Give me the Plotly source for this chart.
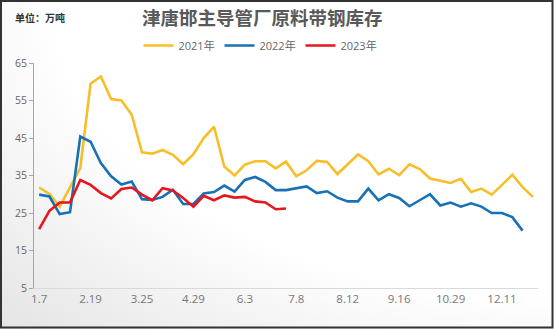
import base64
import plotly.graph_objects as go

# Weekly sampling dates (category axis), every fifth one is labelled
dates = ["1.7", "1.14", "1.21", "1.28", "2.11", "2.19", "2.25", "3.4", "3.11", "3.18",
         "3.25", "4.1", "4.8", "4.15", "4.22", "4.29", "5.6", "5.13", "5.20", "5.27",
         "6.3", "6.10", "6.17", "6.24", "7.1", "7.8", "7.15", "7.22", "7.29", "8.5",
         "8.12", "8.19", "8.26", "9.2", "9.9", "9.16", "9.23", "9.30", "10.14", "10.21",
         "10.29", "11.5", "11.12", "11.26", "12.3", "12.11", "12.17", "12.24", "12.31"]
tick_labels = dates[::5]

# Strip-steel raw-material stock, 10k tonnes
stock_2021 = [31.8, 30.1, 26.7, 32.0, 37.0, 59.5, 61.4, 55.4, 55.0, 51.2,
              41.2, 40.8, 41.8, 40.5, 38.0, 40.7, 45.0, 48.0, 37.4, 35.0,
              37.9, 38.8, 38.8, 36.9, 38.7, 34.8, 36.4, 38.9, 38.6, 35.4,
              38.1, 40.6, 38.8, 35.3, 36.8, 35.1, 38.0, 36.7, 34.2, 33.5,
              33.0, 34.1, 30.6, 31.5, 29.9, 32.5, 35.2, 31.9, 29.3]
stock_2022 = [29.9, 29.4, 24.7, 25.2, 45.4, 44.0, 38.3, 34.8, 32.6, 33.4,
              28.7, 28.5, 29.3, 31.2, 27.4, 27.4, 30.2, 30.6, 32.3, 30.7,
              33.8, 34.6, 33.3, 31.1, 31.1, 31.6, 32.1, 30.3, 30.8, 29.1,
              28.1, 28.1, 31.5, 28.4, 30.0, 29.0, 26.8, 28.4, 30.0, 27.0,
              27.8, 26.7, 27.6, 26.7, 25.0, 25.0, 23.9, 20.3]
stock_2023 = [20.7, 25.6, 27.8, 27.8, 33.8, 32.5, 30.3, 28.9, 31.4, 31.8,
              29.9, 28.4, 31.6, 31.0, 29.0, 26.7, 29.6, 28.4, 29.7, 29.1,
              29.3, 28.1, 27.8, 26.0, 26.2]

series = [("2021年", stock_2021, "#F7BE27"),
          ("2022年", stock_2022, "#1771B6"),
          ("2023年", stock_2023, "#E5161E")]

W, H = 554, 329
ML, MR, MT, MB = 34, 16, 63, 41
PW, PH = W - ML - MR, H - MT - MB


def px_x(p):
    return (p - ML) / PW


def px_y(p):
    return 1 - (p - MT) / PH


fig = go.Figure()
for name, vals, color in series:
    fig.add_trace(go.Scatter(
        x=dates[:len(vals)], y=vals, name=name, mode="lines",
        line=dict(color=color, width=2.6),
    ))

# soft background wash, greying towards the lower-left corner
svg = f'''<svg xmlns="http://www.w3.org/2000/svg" width="{W}" height="{H}">
<defs><radialGradient id="g" cx="1" cy="0" r="1.45">
<stop offset="0.62" stop-color="#ffffff"/><stop offset="1" stop-color="#e2e2e2"/>
</radialGradient></defs><rect width="{W}" height="{H}" fill="url(#g)"/></svg>'''
bg = "data:image/svg+xml;base64," + base64.b64encode(svg.encode()).decode()

fig.update_layout(
    width=W, height=H,
    margin=dict(l=ML, r=MR, t=MT, b=MB),
    paper_bgcolor="white", plot_bgcolor="rgba(0,0,0,0)",
    font=dict(family="Open Sans, Noto Sans CJK SC, sans-serif", color="#666666"),
    showlegend=True,
    legend=dict(orientation="h", x=px_x(260), xanchor="center",
                y=px_y(45.5), yanchor="middle",
                font=dict(size=11, color="#666666",
                          family="Open Sans, Noto Sans CJK SC, sans-serif"),
                itemwidth=30, entrywidth=36, entrywidthmode="pixels",
                bgcolor="rgba(0,0,0,0)"),
    images=[dict(source=bg, xref="paper", yref="paper",
                 x=px_x(0), y=px_y(0), sizex=W / PW, sizey=H / PH,
                 xanchor="left", yanchor="top", sizing="stretch", layer="below")],
    shapes=[dict(type="rect", xref="paper", yref="paper",
                 x0=px_x(1), x1=px_x(552.5), y0=px_y(1), y1=px_y(327.5),
                 line=dict(color="#333333", width=2), fillcolor="rgba(0,0,0,0)")],
    annotations=[
        dict(text="<b>津唐邯主导管厂原料带钢库存</b>", xref="paper", yref="paper",
             x=px_x(262), y=px_y(17.5), xanchor="center", yanchor="middle",
             showarrow=False,
             font=dict(size=18.5, color="#595959", family="Noto Sans CJK SC")),
        dict(text="<b>单位：万吨</b>", xref="paper", yref="paper",
             x=px_x(13), y=px_y(17), xanchor="left", yanchor="middle",
             showarrow=False,
             font=dict(size=10, color="#333333", family="Noto Sans CJK SC")),
    ],
)

fig.update_xaxes(
    type="category", categoryorder="array", categoryarray=dates,
    range=[-0.5, len(dates) - 0.5],
    tickmode="array", tickvals=tick_labels,
    showgrid=False, zeroline=False,
    showline=True, linecolor="#d9d9d9", linewidth=1,
    ticks="", tickfont=dict(size=11.5, color="#777777"),
)
fig.update_yaxes(
    range=[5, 65], tickmode="array", tickvals=[5, 15, 25, 35, 45, 55, 65],
    showgrid=False, zeroline=False,
    showline=True, linecolor="#a6a6a6", linewidth=1,
    ticks="outside", ticklen=4, tickcolor="#a6a6a6",
    tickfont=dict(size=10.5, color="#666666"),
)

fig.write_html("out.html")
